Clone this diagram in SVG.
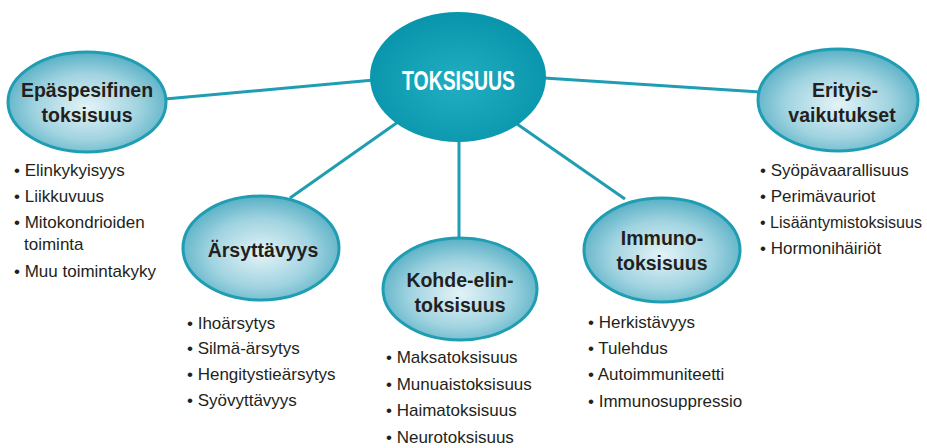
<svg xmlns="http://www.w3.org/2000/svg" width="927" height="448" viewBox="0 0 927 448">
<defs>
<radialGradient id="gNode" cx="50%" cy="55%" r="55%">
<stop offset="0" stop-color="#e3f3f7"/>
<stop offset="0.6" stop-color="#a0d3e0"/>
<stop offset="1" stop-color="#58b0c5"/>
</radialGradient>
<radialGradient id="gCenter" cx="50%" cy="55%" r="55%">
<stop offset="0" stop-color="#22aec2"/>
<stop offset="1" stop-color="#0895ab"/>
</radialGradient>
<style>
.node{fill:url(#gNode);stroke:#1f9db3;stroke-width:3}
.conn{stroke:#1f9db3;stroke-width:3;fill:none}
.title{font-family:"Liberation Sans",sans-serif;font-weight:bold;font-size:19.5px;fill:#231f20;text-anchor:middle}
.item{font-family:"Liberation Sans",sans-serif;font-size:17px;fill:#231f20}
</style>
</defs>
<g id="connectors">
<line class="conn" x1="165" y1="99" x2="374" y2="80"/>
<line class="conn" x1="544" y1="78" x2="760" y2="92"/>
<line class="conn" x1="398" y1="122" x2="290" y2="198"/>
<line class="conn" x1="459" y1="140" x2="459" y2="239"/>
<line class="conn" x1="517" y1="124" x2="625" y2="199"/>
</g>
<g id="center">
<ellipse cx="458" cy="77" rx="88" ry="65" fill="url(#gCenter)"/>
<text x="402" y="90" textLength="113" lengthAdjust="spacingAndGlyphs" style="font-family:'Liberation Sans',sans-serif;font-weight:bold;font-size:28px;fill:#ffffff">TOKSISUUS</text>
</g>
<g id="epaspesifinen">
<ellipse class="node" cx="87" cy="102" rx="79" ry="50"/>
<text class="title" x="87" y="97">Epäspesifinen</text>
<text class="title" x="87" y="122">toksisuus</text>
<text class="item" x="14" y="176">• Elinkykyisyys</text>
<text class="item" x="14" y="202">• Liikkuvuus</text>
<text class="item" x="14" y="228">• Mitokondrioiden</text>
<text class="item" x="24" y="250">toiminta</text>
<text class="item" x="14" y="277">• Muu toimintakyky</text>
</g>
<g id="arsyttavyys">
<ellipse class="node" cx="261" cy="248" rx="78" ry="52"/>
<text class="title" x="263" y="257">Ärsyttävyys</text>
<text class="item" x="187" y="329">• Ihoärsytys</text>
<text class="item" x="187" y="354">• Silmä-ärsytys</text>
<text class="item" x="187" y="380">• Hengitystieärsytys</text>
<text class="item" x="187" y="406">• Syövyttävyys</text>
</g>
<g id="kohde-elin">
<ellipse class="node" cx="460" cy="289" rx="77" ry="51"/>
<text class="title" x="460" y="287">Kohde-elin-</text>
<text class="title" x="460" y="312">toksisuus</text>
<text class="item" x="386" y="363">• Maksatoksisuus</text>
<text class="item" x="386" y="390">• Munuaistoksisuus</text>
<text class="item" x="386" y="416">• Haimatoksisuus</text>
<text class="item" x="386" y="443">• Neurotoksisuus</text>
</g>
<g id="immuno">
<ellipse class="node" cx="662" cy="250" rx="78" ry="52"/>
<text class="title" x="662" y="245">Immuno-</text>
<text class="title" x="662" y="270">toksisuus</text>
<text class="item" x="588" y="328">• Herkistävyys</text>
<text class="item" x="588" y="354">• Tulehdus</text>
<text class="item" x="588" y="380">• Autoimmuniteetti</text>
<text class="item" x="588" y="407">• Immunosuppressio</text>
</g>
<g id="erityis">
<ellipse class="node" cx="838" cy="100" rx="80" ry="51"/>
<text class="title" x="845" y="97">Erityis-</text>
<text class="title" x="842" y="122">vaikutukset</text>
<text class="item" x="760" y="176">• Syöpävaarallisuus</text>
<text class="item" x="760" y="202">• Perimävauriot</text>
<text class="item" x="760" y="228" style="font-size:16px" textLength="162" lengthAdjust="spacingAndGlyphs">• Lisääntymistoksisuus</text>
<text class="item" x="760" y="254">• Hormonihäiriöt</text>
</g>
</svg>
